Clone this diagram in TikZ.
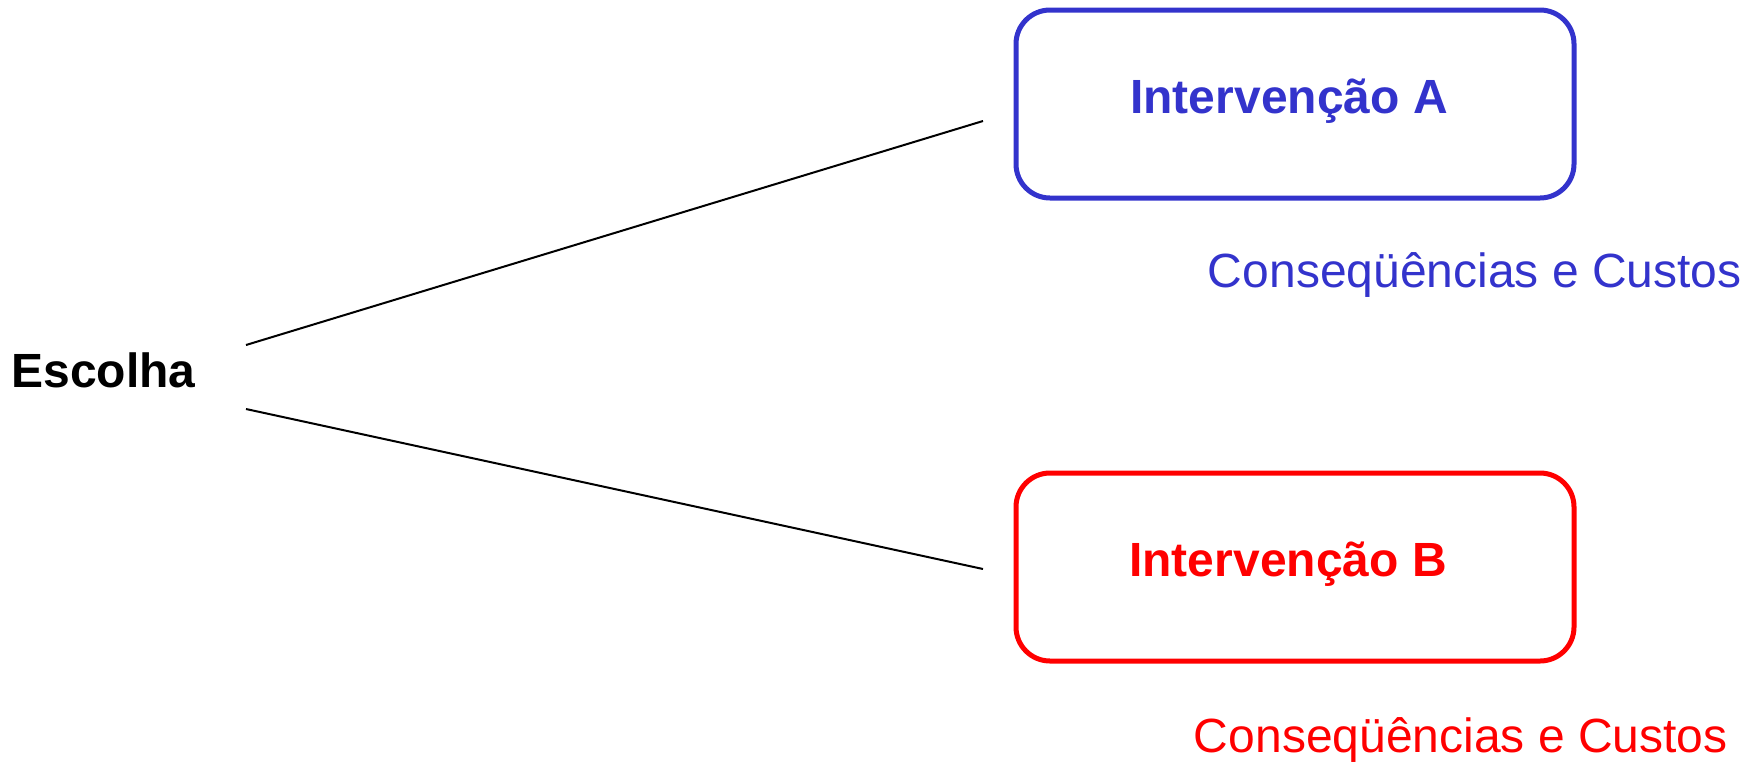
\documentclass[tikz,border=0pt]{standalone}
\usepackage{fontspec}
\setmainfont{Liberation Sans}
\definecolor{bluA}{HTML}{3333CC}
\definecolor{redB}{HTML}{FF0000}
\begin{document}
\begin{tikzpicture}[x=0.5pt,y=-0.5pt,
  box/.style={draw, rounded corners=17pt, line width=2.5pt, minimum width=279pt, minimum height=94pt, inner sep=0pt},
  title/.style={font=\bfseries\fontsize{24}{28}\selectfont, inner sep=0pt},
  note/.style={font=\fontsize{24}{28}\selectfont, inner sep=0pt},
  conn/.style={draw=black, line width=1pt}]
\useasboundingbox (0,0) rectangle (1759,761);
\node[box, draw=bluA] (a) at (1295,104) {};
\node[box, draw=redB] (b) at (1295,567) {};
\node[title, text=bluA] (ta) at (1289,101) {Intervenção A};
\node[title, text=redB] (tb) at (1288,564) {Intervenção B};
\node[title, anchor=west] (esc) at (11,370) {Escolha};
\node[note, text=bluA, anchor=east] (ca) at (1742,275) {Conseqüências e Custos};
\node[note, text=redB, anchor=east] (cb) at (1728,740) {Conseqüências e Custos};
\coordinate (s1) at (246,345);
\coordinate (e1) at (983,121);
\coordinate (s2) at (246,409);
\coordinate (e2) at (983,569);
\draw[conn] (s1) -- (e1);
\draw[conn] (s2) -- (e2);
\end{tikzpicture}
\end{document}
